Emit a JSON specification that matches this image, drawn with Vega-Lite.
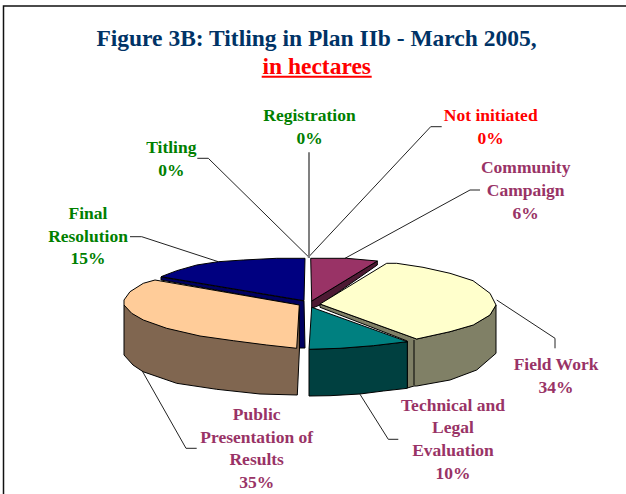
{"$schema":"https://vega.github.io/schema/vega-lite/v6.json","width":626,"height":494,"padding":0,"autosize":{"type":"none"},"background":"white","view":{"stroke":null},
"datasets":{
"surfaces":[
{"part":"Final Resolution side","i":0,"x":-146,"y":-19},{"part":"Final Resolution side","i":1,"x":-3,"y":-43},{"part":"Final Resolution side","i":2,"x":-2,"y":-90},{"part":"Final Resolution side","i":3,"x":-8,"y":-90},{"part":"Final Resolution side","i":4,"x":-8,"y":-47},{"part":"Final Resolution side","i":5,"x":-146,"y":-22},{"part":"Final Resolution side","i":6,"x":-146,"y":-19},
{"part":"Final Resolution top","i":0,"x":-146,"y":-18.7},{"part":"Final Resolution top","i":1,"x":-130.3,"y":-12.7},{"part":"Final Resolution top","i":2,"x":-110.3,"y":-7},{"part":"Final Resolution top","i":3,"x":-88.7,"y":-3.7},{"part":"Final Resolution top","i":4,"x":-63.7,"y":-2},{"part":"Final Resolution top","i":5,"x":-30.3,"y":-0.3},{"part":"Final Resolution top","i":6,"x":-2,"y":-0.3},{"part":"Final Resolution top","i":7,"x":-3,"y":-42.7},{"part":"Final Resolution top","i":8,"x":-146,"y":-18.7},
{"part":"Public Presentation side","i":0,"x":-183,"y":-47},{"part":"Public Presentation side","i":1,"x":-183,"y":-97},{"part":"Public Presentation side","i":2,"x":-174,"y":-107},{"part":"Public Presentation side","i":3,"x":-164,"y":-113.7},{"part":"Public Presentation side","i":4,"x":-130.3,"y":-125.3},{"part":"Public Presentation side","i":5,"x":-90.3,"y":-131.3},{"part":"Public Presentation side","i":6,"x":-47,"y":-136},{"part":"Public Presentation side","i":7,"x":-9.7,"y":-137},{"part":"Public Presentation side","i":8,"x":-7.5,"y":-90},{"part":"Public Presentation side","i":9,"x":-8,"y":-47},{"part":"Public Presentation side","i":10,"x":-183,"y":-47},
{"part":"Public Presentation top","i":0,"x":-7.7,"y":-47},{"part":"Public Presentation top","i":1,"x":-10.3,"y":-90.3},{"part":"Public Presentation top","i":2,"x":-40.3,"y":-87},{"part":"Public Presentation top","i":3,"x":-73.7,"y":-82.7},{"part":"Public Presentation top","i":4,"x":-107,"y":-78},{"part":"Public Presentation top","i":5,"x":-140.3,"y":-70.3},{"part":"Public Presentation top","i":6,"x":-163.7,"y":-62},{"part":"Public Presentation top","i":7,"x":-175.3,"y":-55.3},{"part":"Public Presentation top","i":8,"x":-183,"y":-47},{"part":"Public Presentation top","i":9,"x":-183,"y":-42},{"part":"Public Presentation top","i":10,"x":-177,"y":-33.7},{"part":"Public Presentation top","i":11,"x":-163.7,"y":-25.3},{"part":"Public Presentation top","i":12,"x":-152,"y":-22},{"part":"Public Presentation top","i":13,"x":-7.7,"y":-47},
{"part":"Community Campaign side","i":0,"x":70.3,"y":-3},{"part":"Community Campaign side","i":1,"x":70.3,"y":-7},{"part":"Community Campaign side","i":2,"x":13,"y":-47},{"part":"Community Campaign side","i":3,"x":4.7,"y":-50.3},{"part":"Community Campaign side","i":4,"x":4.7,"y":-43},{"part":"Community Campaign side","i":5,"x":70.3,"y":-3},
{"part":"Community Campaign top","i":0,"x":3.7,"y":-0.3},{"part":"Community Campaign top","i":1,"x":39.7,"y":-0.3},{"part":"Community Campaign top","i":2,"x":70.3,"y":-3},{"part":"Community Campaign top","i":3,"x":4.7,"y":-43},{"part":"Community Campaign top","i":4,"x":3.7,"y":-0.3},
{"part":"Field Work side","i":0,"x":13,"y":-46},{"part":"Field Work side","i":1,"x":13,"y":-49.3},{"part":"Field Work side","i":2,"x":100.3,"y":-83},{"part":"Field Work side","i":3,"x":100.3,"y":-130},{"part":"Field Work side","i":4,"x":107,"y":-128},{"part":"Field Work side","i":5,"x":109.7,"y":-128},{"part":"Field Work side","i":6,"x":143,"y":-122},{"part":"Field Work side","i":7,"x":169.7,"y":-112},{"part":"Field Work side","i":8,"x":189,"y":-95.3},{"part":"Field Work side","i":9,"x":189,"y":-47},{"part":"Field Work side","i":10,"x":183,"y":-57},{"part":"Field Work side","i":11,"x":166,"y":-67},{"part":"Field Work side","i":12,"x":143,"y":-73.7},{"part":"Field Work side","i":13,"x":109.7,"y":-81},{"part":"Field Work side","i":14,"x":13,"y":-46},
{"part":"Field Work edge","i":0,"x":107,"y":-82},{"part":"Field Work edge","i":1,"x":107,"y":-127},
{"part":"Field Work top","i":0,"x":13,"y":-46},{"part":"Field Work top","i":1,"x":79.7,"y":-5.3},{"part":"Field Work top","i":2,"x":89.7,"y":-5.3},{"part":"Field Work top","i":3,"x":116,"y":-9.3},{"part":"Field Work top","i":4,"x":143,"y":-15.3},{"part":"Field Work top","i":5,"x":166,"y":-22.7},{"part":"Field Work top","i":6,"x":183,"y":-35.3},{"part":"Field Work top","i":7,"x":189,"y":-47},{"part":"Field Work top","i":8,"x":183,"y":-57},{"part":"Field Work top","i":9,"x":166.3,"y":-67},{"part":"Field Work top","i":10,"x":143,"y":-73.7},{"part":"Field Work top","i":11,"x":109.7,"y":-81},{"part":"Field Work top","i":12,"x":13,"y":-46},
{"part":"Technical side","i":0,"x":2,"y":-91.3},{"part":"Technical side","i":1,"x":2,"y":-138},{"part":"Technical side","i":2,"x":23,"y":-137.7},{"part":"Technical side","i":3,"x":53,"y":-136},{"part":"Technical side","i":4,"x":76.3,"y":-133},{"part":"Technical side","i":5,"x":100.3,"y":-130.3},{"part":"Technical side","i":6,"x":100.3,"y":-83.7},{"part":"Technical side","i":7,"x":66.3,"y":-87.7},{"part":"Technical side","i":8,"x":33,"y":-90.3},{"part":"Technical side","i":9,"x":2,"y":-91.3},
{"part":"Technical top","i":0,"x":4.7,"y":-49.3},{"part":"Technical top","i":1,"x":2,"y":-91.3},{"part":"Technical top","i":2,"x":33,"y":-90.3},{"part":"Technical top","i":3,"x":66.3,"y":-87.7},{"part":"Technical top","i":4,"x":100.3,"y":-83.7},{"part":"Technical top","i":5,"x":4.7,"y":-49.3}
],
"leaders":[
{"slice":"Final Resolution","i":0,"x":-177,"y":21.3},{"slice":"Final Resolution","i":1,"x":-165.3,"y":21.3},{"slice":"Final Resolution","i":2,"x":-88.7,"y":-3.7},
{"slice":"Titling","i":0,"x":-109.7,"y":99.7},{"slice":"Titling","i":1,"x":-98.7,"y":99.7},{"slice":"Titling","i":2,"x":2,"y":0.7},
{"slice":"Not initiated","i":0,"x":134.7,"y":131.3},{"slice":"Not initiated","i":1,"x":123.7,"y":131.3},{"slice":"Not initiated","i":2,"x":1.3,"y":0.7},
{"slice":"Community Campaign","i":0,"x":173,"y":68},{"slice":"Community Campaign","i":1,"x":163,"y":68},{"slice":"Community Campaign","i":2,"x":38,"y":-0.3},
{"slice":"Field Work","i":0,"x":189.7,"y":-42},{"slice":"Field Work","i":1,"x":248,"y":-80.3},{"slice":"Field Work","i":2,"x":248,"y":-90.3},
{"slice":"Technical and Legal Evaluation","i":0,"x":53,"y":-136.3},{"slice":"Technical and Legal Evaluation","i":1,"x":81.3,"y":-181.3},{"slice":"Technical and Legal Evaluation","i":2,"x":91.3,"y":-181.3},
{"slice":"Public Presentation of Results","i":0,"x":-165.3,"y":-112},{"slice":"Public Presentation of Results","i":1,"x":-121,"y":-190.3},{"slice":"Public Presentation of Results","i":2,"x":-110.3,"y":-190.3}
],
"registration":[{"i":0,"x":2,"y":105.7},{"i":1,"x":2,"y":0}],
"frame":[{"i":0,"x":-303.5,"y":-236},{"i":1,"x":-303.5,"y":252},{"i":2,"x":319,"y":252}],
"underline":[{"i":0,"x":-45.3,"y":181.3},{"i":1,"x":64.7,"y":181.3}],
"labels":[
{"slice":"Registration","share":0,"text":"Registration\n0%","x":2.5,"y":137},
{"slice":"Not initiated","share":0,"text":"Not initiated\n0%","x":183.7,"y":137},
{"slice":"Community Campaign","share":6,"text":"Community\nCampaign\n6%","x":218.7,"y":84.7},
{"slice":"Field Work","share":34,"text":"Field Work\n34%","x":249,"y":-112},
{"slice":"Technical and Legal Evaluation","share":10,"text":"Technical and\nLegal\nEvaluation\n10%","x":146,"y":-152.7},
{"slice":"Public Presentation of Results","share":35,"text":"Public\nPresentation of\nResults\n35%","x":-50.3,"y":-162},
{"slice":"Final Resolution","share":15,"text":"Final\nResolution\n15%","x":-219,"y":39},
{"slice":"Titling","share":0,"text":"Titling\n0%","x":-135.7,"y":104.7}
],
"titles":[
{"line":"Figure 3B: Titling in Plan IIb - March 2005,","x":9.5,"y":212.3},
{"line":"in hectares","x":9.7,"y":183.7}
]},
"layer":[
{"data":{"name":"frame"},"mark":{"type":"line","stroke":"#111111","strokeWidth":1.5,"interpolate":"linear"},"encoding":{"x":{"field":"x","type":"quantitative","scale":{"domain":[-307,319],"nice":false,"zero":false},"axis":null},"y":{"field":"y","type":"quantitative","scale":{"domain":[-236,258],"nice":false,"zero":false},"axis":null},"order":{"field":"i"}}},
{"data":{"name":"leaders"},"mark":{"type":"line","stroke":"#222222","strokeWidth":1},"encoding":{"x":{"field":"x","type":"quantitative","axis":null},"y":{"field":"y","type":"quantitative","axis":null},"detail":{"field":"slice"},"order":{"field":"i"}}},
{"data":{"name":"registration"},"mark":{"type":"line","stroke":"#808080","strokeWidth":2},"encoding":{"x":{"field":"x","type":"quantitative","axis":null},"y":{"field":"y","type":"quantitative","axis":null},"order":{"field":"i"}}},
{"data":{"name":"surfaces"},"mark":{"type":"line","stroke":"#000000","strokeWidth":1,"strokeJoin":"round"},"encoding":{"x":{"field":"x","type":"quantitative","axis":null},"y":{"field":"y","type":"quantitative","axis":null},"detail":{"field":"part"},"order":{"field":"i"},
"fill":{"field":"part","type":"nominal","legend":null,"scale":{"domain":["Final Resolution side","Final Resolution top","Public Presentation side","Public Presentation top","Community Campaign side","Community Campaign top","Field Work side","Field Work edge","Field Work top","Technical side","Technical top"],"range":["#000060","#000080","#806650","#FFCC99","#4D1A33","#993366","#808066","#000000","#FFFFCC","#004040","#008080"]}}}},
{"data":{"name":"underline"},"mark":{"type":"line","stroke":"#FF0000","strokeWidth":2},"encoding":{"x":{"field":"x","type":"quantitative","axis":null},"y":{"field":"y","type":"quantitative","axis":null},"order":{"field":"i"}}},
{"data":{"name":"labels"},"mark":{"type":"text","font":"Liberation Serif","fontWeight":"bold","fontSize":17.5,"align":"center","baseline":"alphabetic","lineBreak":"\n","lineHeight":22.7},"encoding":{"x":{"field":"x","type":"quantitative","axis":null},"y":{"field":"y","type":"quantitative","axis":null},"text":{"field":"text"},
"color":{"field":"slice","type":"nominal","legend":null,"scale":{"domain":["Registration","Not initiated","Community Campaign","Field Work","Technical and Legal Evaluation","Public Presentation of Results","Final Resolution","Titling"],"range":["#008000","#FF0000","#993366","#993366","#993366","#993366","#008000","#008000"]}}}},
{"data":{"name":"titles"},"mark":{"type":"text","font":"Liberation Serif","fontWeight":"bold","fontSize":23.5,"align":"center","baseline":"alphabetic"},"encoding":{"x":{"field":"x","type":"quantitative","axis":null},"y":{"field":"y","type":"quantitative","axis":null},"text":{"field":"line"},
"color":{"field":"line","type":"nominal","legend":null,"scale":{"domain":["Figure 3B: Titling in Plan IIb - March 2005,","in hectares"],"range":["#003366","#FF0000"]}}}}
],
"resolve":{"scale":{"fill":"independent","color":"independent"}}
}
